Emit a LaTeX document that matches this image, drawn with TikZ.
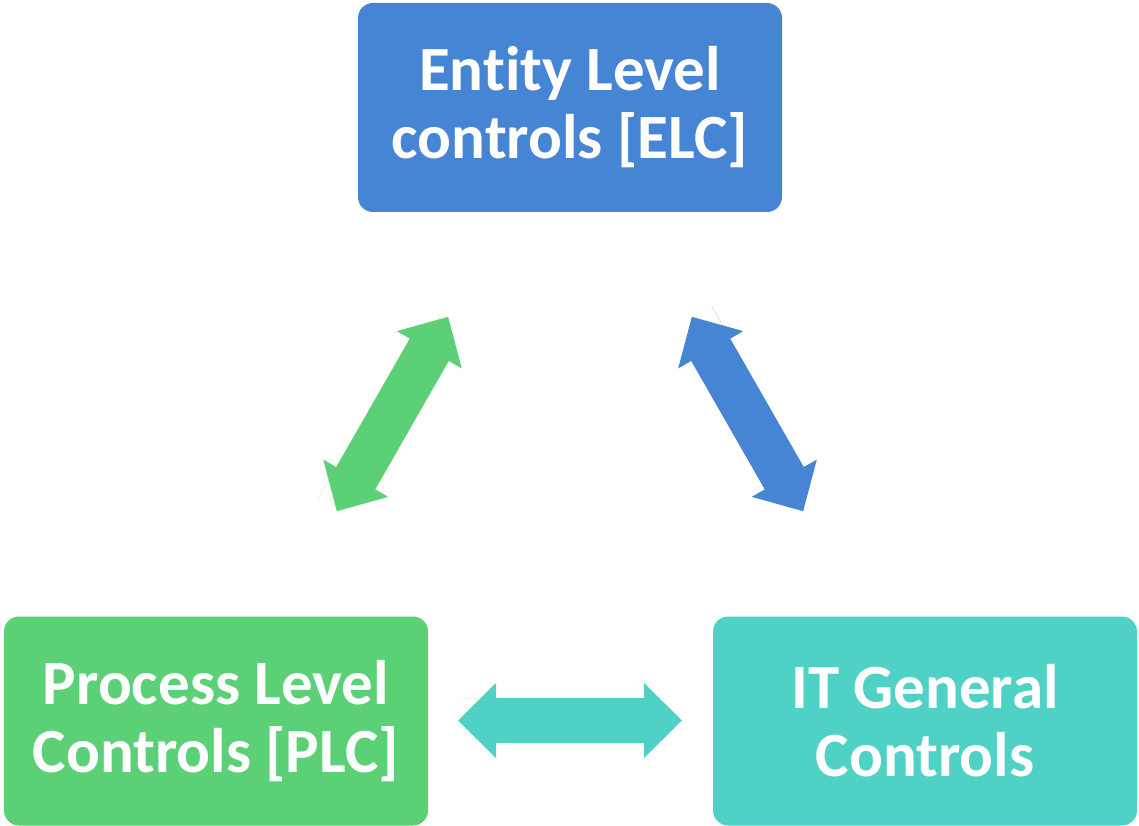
\documentclass[tikz,border=0pt]{standalone}
\usepackage{fontspec}
\setmainfont{Carlito}[Ligatures=NoCommon]
\definecolor{elcblue}{HTML}{4684D4}
\definecolor{plcgreen}{HTML}{5BD076}
\definecolor{itteal}{HTML}{50D1C6}
\tikzset{
  ctrlbox/.style={rectangle, rounded corners=15pt, minimum width=424pt, minimum height=209pt,
    inner sep=0pt, align=center, text=white, font=\fontsize{63}{68}\selectfont\bfseries},
  dblarrow/.pic={\fill (-112,-22.5) -- (74,-22.5) -- (74,-37.5) -- (112,0) -- (74,37.5) -- (74,22.5)
     -- (-74,22.5) -- (-74,37.5) -- (-112,0) -- (-74,-37.5) -- (-74,-22.5) -- cycle;}
}
\begin{document}
\begin{tikzpicture}[x=1pt,y=-1pt]
\useasboundingbox (0,0) rectangle (1139,826);
\node[ctrlbox, fill=elcblue] (elc) at (570,107.5) {Entity Level\\controls [ELC]};
\node[ctrlbox, fill=plcgreen] (plc) at (216,721) {Process Level\\Controls [PLC]};
\node[ctrlbox, fill=itteal] (itgc) at (925,721) {IT General\\Controls};
\coordinate (ga) at (392.5,414);
\coordinate (ba) at (747.5,414);
\coordinate (ta) at (570,720.5);
\pic[fill=plcgreen, rotate=60.2] at (ga) {dblarrow};
\pic[fill=elcblue, rotate=-60.2] at (ba) {dblarrow};
\pic[fill=itteal] at (ta) {dblarrow};
\end{tikzpicture}
\end{document}
